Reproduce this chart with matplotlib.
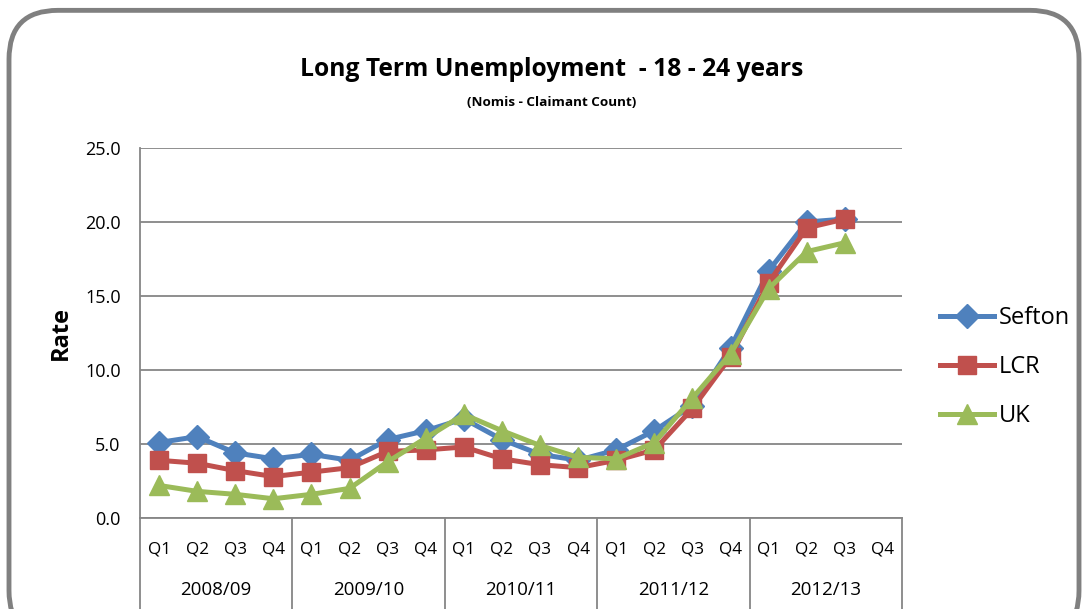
import matplotlib.pyplot as plt
from matplotlib.patches import FancyBboxPatch

plt.rcParams['font.family'] = ['Open Sans', 'DejaVu Sans']

years = ['2008/09', '2009/10', '2010/11', '2011/12', '2012/13']
quarters = ['Q1', 'Q2', 'Q3', 'Q4']

sefton = [5.1, 5.5, 4.4, 4.0, 4.3, 3.9, 5.3, 5.9, 6.7, 5.3, 4.3, 3.9,
          4.6, 5.9, 7.6, 11.5, 16.7, 20.0, 20.2]
lcr = [3.9, 3.7, 3.2, 2.8, 3.1, 3.4, 4.5, 4.6, 4.8, 4.0, 3.6, 3.4,
       3.9, 4.6, 7.4, 10.9, 15.9, 19.6, 20.2]
uk = [2.2, 1.8, 1.6, 1.3, 1.6, 2.0, 3.8, 5.4, 7.0, 5.9, 4.9, 4.1,
      4.0, 5.1, 8.1, 11.1, 15.5, 18.0, 18.6]

fig = plt.figure(figsize=(10.85, 6.09), dpi=100)
ax = fig.add_axes([140/1085, 1-518/609, 762/1085, 370/609])

border = FancyBboxPatch((9/1085, -0.05), 1070/1085, 1.033, transform=fig.transFigure,
                        boxstyle='round,pad=0,rounding_size=0.045', fc='none',
                        ec='#808080', lw=3.5, mutation_aspect=1085/609)
fig.patches.append(border)

n = len(years) * len(quarters)
x = list(range(len(sefton)))
ax.plot(x, sefton, color='#4F81BD', lw=3.6, marker='D', ms=12, label='Sefton', zorder=3)
ax.plot(x, lcr, color='#C0504D', lw=3.6, marker='s', ms=12.5, label='LCR', zorder=4)
ax.plot(x, uk, color='#9BBB59', lw=3.6, marker='^', ms=14, label='UK', zorder=5)

ax.set_xlim(-0.5, n - 0.5)
ax.set_ylim(0, 25)
ax.set_yticks([0, 5, 10, 15, 20, 25])
ax.set_yticklabels(['%.1f' % v for v in [0, 5, 10, 15, 20, 25]], fontsize=13)
ax.yaxis.grid(True, color='#868686', lw=1.3)
ax.set_axisbelow(True)
for s in ['top', 'right']:
    ax.spines[s].set_visible(False)
for s in ['left', 'bottom']:
    ax.spines[s].set_color('#868686')
    ax.spines[s].set_linewidth(1.3)
ax.tick_params(axis='y', length=0, pad=14)
ax.set_xticks(range(n))
ax.set_xticklabels(quarters * len(years), fontsize=12.3)
ax.tick_params(axis='x', length=0, pad=17)

for i, yr in enumerate(years):
    ax.text(i * 4 + 1.5, -0.195, yr, transform=ax.get_xaxis_transform(),
            ha='center', va='center', fontsize=13.5)
for i in range(len(years) + 1):
    ax.plot([i * 4 - 0.5] * 2, [0, -0.26], transform=ax.get_xaxis_transform(),
            color='#868686', lw=1.3, clip_on=False)

ax.set_ylabel('Rate', fontsize=17, fontweight='bold', labelpad=9)

fig.text(552/1085, 1-70/609, 'Long Term Unemployment  - 18 - 24 years',
         ha='center', va='center', fontsize=17.7, fontweight='bold')
fig.text(552/1085, 1-103/609, '(Nomis - Claimant Count)',
         ha='center', va='center', fontsize=9.7, fontweight='bold')

fig.legend(loc='center left', bbox_to_anchor=(940/1085, 1-367/609), frameon=False,
           fontsize=17, handlelength=2.3, labelspacing=1.05, handletextpad=0.2,
           borderaxespad=0, borderpad=0)

fig.savefig('out.png', dpi=100)
